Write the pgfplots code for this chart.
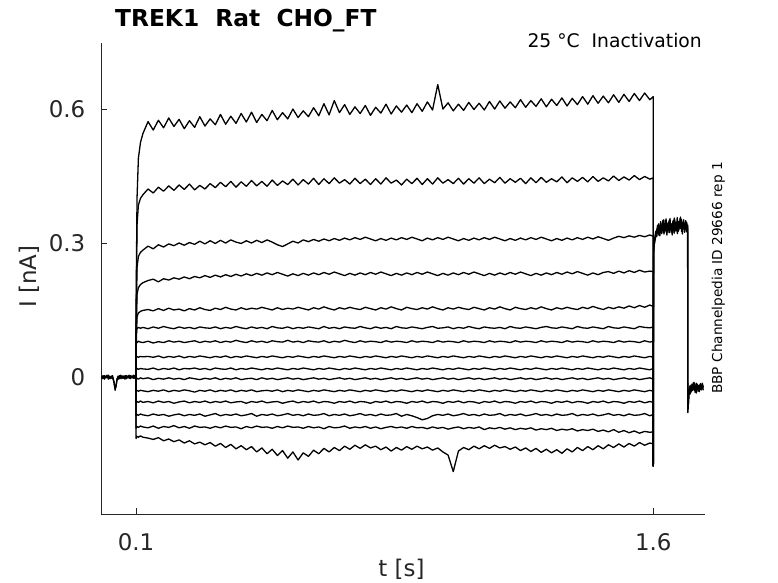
\documentclass[border=0pt]{standalone}
\usepackage{fontspec}
\setmainfont{DejaVu Sans}
\usepackage{pgfplots}
\pgfplotsset{compat=1.18}
\usepackage{pgfplotstable}
\definecolor{axgray}{RGB}{38,38,38}

\pgfplotstableread{
t A B C D E F G H I J K L M N O
0.1000 0.000 0.000 0.000 0.000 0.000 0.000 0.000 0.000 0.000 0.000 0.000 0.000 0.000 0.000 0.000
0.1002 0.150 0.100 0.080 0.060 0.050 0.105 0.075 0.043 0.016 -0.006 -0.033 -0.058 -0.087 -0.115 -0.138
0.1030 0.400 0.340 0.245 0.185 0.135 0.108 0.077 0.046 0.019 -0.003 -0.030 -0.055 -0.084 -0.111 -0.133
0.1070 0.490 0.385 0.270 0.200 0.143 0.111 0.080 0.044 0.017 -0.005 -0.032 -0.057 -0.086 -0.113 -0.135
0.1130 0.525 0.400 0.279 0.207 0.147 0.109 0.078 0.046 0.019 -0.002 -0.030 -0.054 -0.083 -0.110 -0.132
0.1200 0.545 0.408 0.284 0.211 0.149 0.111 0.077 0.045 0.018 -0.004 -0.031 -0.057 -0.085 -0.112 -0.135
0.135 0.572 0.421 0.293 0.216 0.151 0.108 0.080 0.046 0.017 -0.002 -0.033 -0.055 -0.087 -0.114 -0.137
0.150 0.553 0.412 0.287 0.219 0.148 0.112 0.076 0.044 0.020 -0.006 -0.030 -0.058 -0.083 -0.110 -0.140
0.165 0.575 0.425 0.296 0.213 0.153 0.109 0.079 0.047 0.016 -0.003 -0.032 -0.054 -0.086 -0.115 -0.136
0.180 0.558 0.416 0.291 0.220 0.149 0.113 0.077 0.043 0.019 -0.005 -0.029 -0.057 -0.084 -0.111 -0.143
0.195 0.580 0.428 0.298 0.217 0.154 0.110 0.081 0.046 0.017 -0.002 -0.033 -0.055 -0.088 -0.113 -0.139
0.210 0.561 0.418 0.294 0.222 0.150 0.108 0.078 0.044 0.020 -0.005 -0.030 -0.059 -0.085 -0.109 -0.145
0.225 0.577 0.430 0.300 0.219 0.152 0.112 0.080 0.047 0.016 -0.003 -0.032 -0.056 -0.083 -0.114 -0.141
0.240 0.556 0.420 0.295 0.224 0.148 0.109 0.077 0.043 0.019 -0.006 -0.029 -0.054 -0.087 -0.111 -0.148
0.255 0.574 0.432 0.301 0.220 0.153 0.111 0.079 0.046 0.018 -0.002 -0.031 -0.058 -0.084 -0.115 -0.143
0.270 0.559 0.419 0.297 0.225 0.150 0.108 0.081 0.044 0.020 -0.004 -0.034 -0.055 -0.086 -0.110 -0.150
0.285 0.583 0.429 0.304 0.222 0.155 0.112 0.077 0.047 0.017 -0.006 -0.030 -0.057 -0.083 -0.113 -0.146
0.300 0.562 0.421 0.298 0.227 0.151 0.110 0.080 0.045 0.019 -0.003 -0.032 -0.054 -0.088 -0.112 -0.152
0.315 0.578 0.433 0.305 0.223 0.149 0.109 0.078 0.043 0.016 -0.005 -0.029 -0.058 -0.085 -0.115 -0.147
0.330 0.565 0.424 0.299 0.228 0.154 0.112 0.081 0.046 0.020 -0.002 -0.033 -0.055 -0.082 -0.111 -0.155
0.345 0.588 0.436 0.306 0.224 0.151 0.108 0.077 0.044 0.018 -0.006 -0.030 -0.057 -0.087 -0.114 -0.149
0.360 0.566 0.426 0.300 0.229 0.156 0.111 0.080 0.047 0.017 -0.003 -0.032 -0.054 -0.084 -0.110 -0.158
0.375 0.584 0.438 0.307 0.225 0.152 0.109 0.078 0.043 0.020 -0.005 -0.029 -0.058 -0.086 -0.113 -0.151
0.390 0.568 0.425 0.302 0.230 0.150 0.113 0.082 0.046 0.016 -0.002 -0.033 -0.056 -0.083 -0.112 -0.161
0.405 0.590 0.437 0.299 0.226 0.155 0.110 0.079 0.044 0.019 -0.006 -0.030 -0.055 -0.087 -0.116 -0.154
0.420 0.571 0.427 0.305 0.231 0.151 0.108 0.077 0.047 0.017 -0.004 -0.032 -0.059 -0.085 -0.111 -0.163
0.435 0.593 0.440 0.300 0.227 0.154 0.112 0.081 0.045 0.020 -0.003 -0.029 -0.055 -0.082 -0.114 -0.156
0.450 0.570 0.428 0.306 0.232 0.152 0.109 0.078 0.043 0.018 -0.006 -0.033 -0.057 -0.088 -0.110 -0.168
0.465 0.588 0.438 0.301 0.228 0.156 0.111 0.080 0.046 0.016 -0.002 -0.031 -0.054 -0.084 -0.113 -0.159
0.480 0.574 0.427 0.307 0.233 0.153 0.108 0.077 0.044 0.019 -0.005 -0.030 -0.058 -0.086 -0.112 -0.172
0.495 0.597 0.441 0.302 0.229 0.150 0.113 0.081 0.047 0.017 -0.003 -0.032 -0.056 -0.083 -0.115 -0.162
0.510 0.576 0.429 0.296 0.234 0.155 0.110 0.079 0.045 0.020 -0.006 -0.029 -0.055 -0.087 -0.111 -0.176
0.525 0.592 0.439 0.292 0.230 0.151 0.109 0.078 0.043 0.018 -0.004 -0.033 -0.059 -0.085 -0.114 -0.165
0.540 0.578 0.431 0.298 0.226 0.154 0.112 0.082 0.046 0.016 -0.002 -0.030 -0.056 -0.082 -0.110 -0.182
0.555 0.600 0.443 0.304 0.231 0.152 0.108 0.078 0.044 0.019 -0.005 -0.032 -0.054 -0.086 -0.113 -0.168
0.570 0.581 0.430 0.300 0.227 0.156 0.111 0.080 0.047 0.017 -0.003 -0.029 -0.058 -0.084 -0.112 -0.186
0.585 0.596 0.442 0.307 0.232 0.153 0.109 0.077 0.045 0.020 -0.006 -0.031 -0.055 -0.087 -0.115 -0.170
0.600 0.583 0.432 0.303 0.228 0.150 0.112 0.081 0.043 0.018 -0.004 -0.033 -0.057 -0.083 -0.111 -0.178
0.615 0.603 0.445 0.308 0.233 0.155 0.110 0.079 0.046 0.016 -0.002 -0.030 -0.054 -0.086 -0.114 -0.164
0.630 0.585 0.431 0.304 0.229 0.152 0.108 0.078 0.044 0.019 -0.005 -0.032 -0.058 -0.085 -0.112 -0.172
0.645 0.612 0.444 0.309 0.234 0.157 0.113 0.081 0.047 0.017 -0.003 -0.029 -0.055 -0.082 -0.116 -0.160
0.660 0.587 0.433 0.305 0.230 0.153 0.109 0.077 0.045 0.020 -0.006 -0.031 -0.056 -0.087 -0.111 -0.168
0.675 0.619 0.446 0.310 0.235 0.150 0.111 0.080 0.043 0.018 -0.004 -0.033 -0.059 -0.084 -0.114 -0.158
0.690 0.592 0.434 0.306 0.231 0.155 0.108 0.078 0.046 0.016 -0.002 -0.030 -0.055 -0.086 -0.113 -0.165
0.705 0.610 0.442 0.311 0.227 0.152 0.112 0.082 0.044 0.019 -0.005 -0.032 -0.057 -0.083 -0.110 -0.155
0.720 0.588 0.432 0.307 0.232 0.156 0.110 0.079 0.047 0.017 -0.003 -0.029 -0.054 -0.087 -0.115 -0.162
0.735 0.605 0.445 0.312 0.228 0.153 0.109 0.077 0.045 0.020 -0.006 -0.031 -0.058 -0.085 -0.112 -0.153
0.750 0.590 0.433 0.308 0.233 0.151 0.113 0.081 0.043 0.018 -0.004 -0.033 -0.055 -0.082 -0.114 -0.160
0.765 0.608 0.443 0.313 0.229 0.156 0.110 0.078 0.046 0.016 -0.002 -0.030 -0.056 -0.086 -0.111 -0.152
0.780 0.586 0.431 0.309 0.234 0.153 0.108 0.080 0.044 0.019 -0.005 -0.032 -0.059 -0.084 -0.115 -0.159
0.795 0.604 0.444 0.305 0.230 0.150 0.112 0.079 0.047 0.017 -0.003 -0.029 -0.055 -0.087 -0.112 -0.155
0.810 0.591 0.432 0.310 0.235 0.155 0.109 0.077 0.045 0.020 -0.006 -0.031 -0.057 -0.083 -0.116 -0.163
0.825 0.611 0.446 0.306 0.231 0.152 0.111 0.081 0.043 0.018 -0.004 -0.033 -0.054 -0.086 -0.113 -0.157
0.840 0.589 0.434 0.311 0.227 0.157 0.108 0.078 0.046 0.016 -0.002 -0.030 -0.058 -0.085 -0.111 -0.166
0.855 0.607 0.441 0.307 0.232 0.153 0.113 0.080 0.044 0.019 -0.005 -0.032 -0.055 -0.082 -0.114 -0.158
0.870 0.593 0.430 0.312 0.228 0.150 0.110 0.079 0.047 0.017 -0.003 -0.029 -0.056 -0.088 -0.112 -0.164
0.885 0.609 0.443 0.308 0.233 0.156 0.109 0.077 0.045 0.020 -0.006 -0.031 -0.059 -0.084 -0.115 -0.156
0.900 0.592 0.433 0.313 0.229 0.153 0.112 0.081 0.043 0.018 -0.004 -0.033 -0.055 -0.087 -0.111 -0.162
0.915 0.612 0.445 0.309 0.234 0.151 0.110 0.078 0.046 0.016 -0.002 -0.030 -0.057 -0.091 -0.114 -0.155
0.930 0.595 0.431 0.305 0.230 0.155 0.108 0.080 0.044 0.019 -0.005 -0.032 -0.054 -0.096 -0.113 -0.161
0.945 0.616 0.444 0.311 0.235 0.152 0.111 0.079 0.047 0.017 -0.003 -0.029 -0.058 -0.093 -0.116 -0.157
0.960 0.598 0.432 0.307 0.231 0.157 0.113 0.077 0.045 0.020 -0.006 -0.031 -0.055 -0.087 -0.112 -0.164
0.975 0.655 0.446 0.312 0.227 0.153 0.109 0.081 0.043 0.018 -0.004 -0.033 -0.056 -0.084 -0.115 -0.159
0.990 0.600 0.434 0.308 0.232 0.150 0.110 0.078 0.046 0.016 -0.002 -0.030 -0.059 -0.086 -0.113 -0.168
1.005 0.614 0.442 0.313 0.228 0.155 0.112 0.080 0.044 0.019 -0.005 -0.032 -0.055 -0.083 -0.117 -0.175
1.020 0.596 0.433 0.309 0.233 0.152 0.108 0.079 0.047 0.017 -0.003 -0.029 -0.057 -0.087 -0.114 -0.212
1.035 0.611 0.445 0.305 0.229 0.156 0.111 0.077 0.045 0.020 -0.006 -0.031 -0.054 -0.085 -0.112 -0.166
1.050 0.597 0.432 0.310 0.234 0.153 0.109 0.081 0.043 0.018 -0.004 -0.033 -0.058 -0.082 -0.116 -0.158
1.065 0.615 0.444 0.306 0.230 0.151 0.113 0.078 0.046 0.016 -0.002 -0.030 -0.055 -0.086 -0.113 -0.163
1.080 0.599 0.434 0.311 0.235 0.156 0.110 0.080 0.044 0.019 -0.005 -0.032 -0.056 -0.084 -0.115 -0.155
1.095 0.613 0.446 0.307 0.231 0.153 0.108 0.079 0.047 0.017 -0.003 -0.029 -0.059 -0.087 -0.112 -0.161
1.110 0.598 0.433 0.312 0.227 0.150 0.112 0.077 0.045 0.020 -0.006 -0.031 -0.055 -0.083 -0.118 -0.154
1.125 0.617 0.443 0.308 0.232 0.155 0.110 0.081 0.043 0.018 -0.004 -0.033 -0.057 -0.086 -0.114 -0.160
1.140 0.600 0.435 0.313 0.228 0.152 0.109 0.078 0.046 0.016 -0.002 -0.030 -0.054 -0.085 -0.116 -0.153
1.155 0.618 0.447 0.309 0.233 0.157 0.111 0.080 0.044 0.019 -0.005 -0.032 -0.058 -0.082 -0.113 -0.159
1.170 0.602 0.434 0.305 0.229 0.153 0.108 0.079 0.047 0.017 -0.003 -0.029 -0.055 -0.087 -0.117 -0.156
1.185 0.616 0.444 0.310 0.234 0.150 0.113 0.077 0.045 0.020 -0.006 -0.031 -0.056 -0.084 -0.114 -0.162
1.200 0.603 0.436 0.306 0.230 0.156 0.110 0.081 0.043 0.018 -0.004 -0.033 -0.059 -0.086 -0.118 -0.157
1.215 0.621 0.445 0.311 0.235 0.153 0.109 0.078 0.046 0.016 -0.002 -0.030 -0.055 -0.083 -0.115 -0.165
1.230 0.604 0.433 0.307 0.231 0.151 0.112 0.080 0.044 0.019 -0.005 -0.032 -0.057 -0.087 -0.117 -0.159
1.245 0.619 0.446 0.312 0.227 0.155 0.110 0.079 0.047 0.017 -0.003 -0.029 -0.054 -0.085 -0.114 -0.167
1.260 0.606 0.435 0.308 0.232 0.152 0.108 0.077 0.045 0.020 -0.006 -0.031 -0.058 -0.082 -0.119 -0.160
1.275 0.623 0.447 0.313 0.228 0.157 0.111 0.081 0.043 0.018 -0.004 -0.033 -0.055 -0.086 -0.116 -0.169
1.290 0.605 0.436 0.309 0.233 0.153 0.113 0.078 0.046 0.016 -0.002 -0.030 -0.056 -0.084 -0.118 -0.162
1.305 0.622 0.444 0.305 0.229 0.150 0.110 0.080 0.044 0.019 -0.005 -0.032 -0.059 -0.087 -0.115 -0.170
1.320 0.608 0.437 0.310 0.234 0.155 0.109 0.079 0.047 0.017 -0.003 -0.029 -0.055 -0.083 -0.120 -0.163
1.335 0.625 0.448 0.306 0.230 0.152 0.112 0.077 0.045 0.020 -0.006 -0.031 -0.057 -0.086 -0.117 -0.171
1.350 0.607 0.435 0.311 0.235 0.156 0.110 0.081 0.043 0.018 -0.004 -0.033 -0.054 -0.085 -0.119 -0.161
1.365 0.624 0.446 0.307 0.231 0.153 0.108 0.078 0.046 0.016 -0.002 -0.030 -0.058 -0.082 -0.116 -0.168
1.380 0.610 0.438 0.312 0.236 0.151 0.113 0.080 0.044 0.019 -0.005 -0.032 -0.055 -0.087 -0.121 -0.158
1.395 0.628 0.447 0.308 0.232 0.156 0.110 0.079 0.047 0.017 -0.003 -0.029 -0.056 -0.084 -0.118 -0.165
1.410 0.611 0.437 0.313 0.228 0.153 0.109 0.077 0.045 0.020 -0.006 -0.031 -0.059 -0.086 -0.120 -0.156
1.425 0.630 0.449 0.309 0.233 0.158 0.112 0.081 0.043 0.018 -0.004 -0.033 -0.055 -0.083 -0.117 -0.163
1.440 0.613 0.438 0.314 0.229 0.154 0.110 0.078 0.046 0.016 -0.002 -0.030 -0.057 -0.087 -0.122 -0.154
1.455 0.629 0.446 0.310 0.234 0.151 0.108 0.080 0.044 0.019 -0.005 -0.032 -0.054 -0.085 -0.119 -0.161
1.470 0.614 0.439 0.306 0.236 0.156 0.113 0.079 0.047 0.017 -0.003 -0.029 -0.058 -0.082 -0.123 -0.152
1.485 0.632 0.450 0.311 0.232 0.153 0.110 0.077 0.045 0.020 -0.006 -0.031 -0.055 -0.086 -0.118 -0.158
1.500 0.615 0.440 0.315 0.237 0.157 0.109 0.081 0.043 0.018 -0.004 -0.033 -0.056 -0.084 -0.124 -0.150
1.515 0.633 0.448 0.312 0.233 0.154 0.112 0.078 0.046 0.016 -0.002 -0.030 -0.059 -0.087 -0.120 -0.157
1.530 0.617 0.441 0.316 0.238 0.159 0.110 0.080 0.044 0.019 -0.005 -0.032 -0.055 -0.083 -0.125 -0.149
1.545 0.635 0.451 0.313 0.234 0.155 0.108 0.079 0.047 0.017 -0.003 -0.029 -0.057 -0.086 -0.121 -0.155
1.560 0.619 0.442 0.317 0.239 0.160 0.113 0.077 0.045 0.020 -0.006 -0.031 -0.054 -0.085 -0.126 -0.147
1.575 0.636 0.449 0.314 0.235 0.156 0.111 0.081 0.043 0.018 -0.004 -0.033 -0.058 -0.082 -0.122 -0.153
1.590 0.621 0.443 0.318 0.237 0.161 0.110 0.078 0.046 0.016 -0.002 -0.030 -0.055 -0.087 -0.124 -0.148
1.600 0.628 0.446 0.315 0.236 0.158 0.112 0.080 0.044 0.019 -0.005 -0.032 -0.057 -0.084 -0.123 -0.150
1.6002 -0.200 -0.200 -0.200 -0.200 -0.200 -0.200 -0.200 -0.200 -0.200 -0.200 -0.200 -0.200 -0.200 -0.200 -0.200
}\pulse

\begin{document}
\begin{tikzpicture}
\path[use as bounding box] (-101.5bp,-69bp) rectangle (676.5bp,514bp);
\begin{axis}[
  at={(0,0)}, anchor=south west,
  scale only axis, width=603.5bp, height=471bp,
  xmin=0, xmax=1.75, ymin=-0.307, ymax=0.748,
  axis lines*=left,
  axis line style={axgray, line width=0.6bp},
  xtick={0.1,1.6}, ytick={0,0.3,0.6},
  tick align=inside, major tick length=6bp,
  tick style={axgray, line width=0.6bp},
  /pgf/number format/assume math mode=true,
  ticklabel style={font=\fontsize{23}{27}\selectfont, text=axgray, inner sep=0pt},
  xticklabel style={anchor=north, yshift=-19bp},
  yticklabel style={anchor=east, xshift=-16bp},
  no markers,
  every axis plot post/.append style={black, solid, mark=none, line width=1.3bp, line join=round},
]
\pgfplotsinvokeforeach{A,B,C,D,E,F,G,H,I,J,K,L,M,N,O}{
  \addplot table[x=t, y=#1] {\pulse};
}
% pre-pulse baseline
\addplot coordinates {(0,0.002)(0.004,-0.004)(0.008,0.003)(0.012,-0.002)(0.016,0.004)(0.020,-0.005)(0.024,0.001)(0.028,-0.003)(0.032,0.003)(0.036,-0.010)(0.039,-0.026)(0.042,-0.022)(0.045,-0.006)(0.048,0.002)(0.052,-0.004)(0.056,0.004)(0.060,-0.003)(0.064,0.002)(0.068,-0.005)(0.072,0.003)(0.076,-0.002)(0.080,0.004)(0.084,-0.004)(0.088,0.002)(0.092,-0.003)(0.096,0.003)(0.1,0)};
\addplot coordinates {(0,-0.003)(0.0045,0.003)(0.0085,-0.005)(0.0125,0.002)(0.0165,-0.002)(0.0205,0.004)(0.0245,-0.004)(0.0285,0.002)(0.0325,-0.003)(0.0365,-0.012)(0.0395,-0.030)(0.0425,-0.018)(0.0455,-0.003)(0.0485,-0.005)(0.0525,0.003)(0.0565,-0.004)(0.0605,0.002)(0.0645,-0.003)(0.0685,0.003)(0.0725,-0.004)(0.0765,0.002)(0.0805,-0.003)(0.0845,0.003)(0.0885,-0.002)(0.0925,0.004)(0.0965,-0.003)(0.1,0)};
% tail
\addplot coordinates {(1.6002,-0.200)(1.6010,0.270)(1.6030,0.305)(1.6060,0.318)(1.610,0.330)(1.614,0.322)(1.618,0.338)(1.622,0.326)(1.626,0.345)(1.630,0.330)(1.634,0.341)(1.638,0.324)(1.642,0.336)(1.646,0.350)(1.650,0.331)(1.654,0.343)(1.658,0.327)(1.662,0.352)(1.666,0.335)(1.670,0.346)(1.674,0.329)(1.678,0.355)(1.682,0.338)(1.686,0.347)(1.690,0.332)(1.694,0.350)(1.698,0.336)(1.7000,0.340)(1.7002,-0.060)(1.7010,-0.072)(1.7030,-0.040)(1.706,-0.025)(1.710,-0.018)(1.714,-0.030)(1.718,-0.012)(1.722,-0.026)(1.726,-0.015)(1.730,-0.032)(1.734,-0.018)(1.738,-0.028)(1.742,-0.014)(1.745,-0.022)};
\addplot coordinates {(1.6002,-0.200)(1.6012,0.285)(1.6035,0.300)(1.6065,0.312)(1.6095,0.325)(1.6125,0.340)(1.6155,0.318)(1.6185,0.333)(1.6215,0.348)(1.6245,0.321)(1.6275,0.336)(1.6305,0.352)(1.6335,0.327)(1.6365,0.342)(1.6395,0.318)(1.6425,0.345)(1.6455,0.331)(1.6485,0.355)(1.6515,0.324)(1.6545,0.339)(1.6575,0.350)(1.6605,0.322)(1.6635,0.344)(1.6665,0.330)(1.6695,0.357)(1.6725,0.326)(1.6755,0.341)(1.6785,0.333)(1.6815,0.353)(1.6845,0.320)(1.6875,0.345)(1.6905,0.330)(1.6935,0.349)(1.6965,0.325)(1.6995,0.338)(1.7002,-0.050)(1.7012,-0.068)(1.7035,-0.035)(1.7065,-0.020)(1.7095,-0.034)(1.7125,-0.016)(1.7155,-0.029)(1.7185,-0.020)(1.7215,-0.035)(1.7245,-0.014)(1.7275,-0.027)(1.7305,-0.019)(1.7335,-0.033)(1.7365,-0.016)(1.7395,-0.026)(1.7425,-0.020)(1.7450,-0.030)};
\addplot coordinates {(1.6002,-0.200)(1.6015,0.292)(1.6040,0.302)(1.6070,0.326)(1.6100,0.314)(1.6130,0.333)(1.6160,0.343)(1.6190,0.316)(1.6220,0.338)(1.6250,0.329)(1.6280,0.351)(1.6310,0.320)(1.6340,0.337)(1.6370,0.354)(1.6400,0.328)(1.6430,0.340)(1.6460,0.323)(1.6490,0.347)(1.6520,0.336)(1.6550,0.318)(1.6580,0.344)(1.6610,0.356)(1.6640,0.327)(1.6670,0.339)(1.6700,0.321)(1.6730,0.348)(1.6760,0.334)(1.6790,0.358)(1.6820,0.326)(1.6850,0.342)(1.6880,0.352)(1.6910,0.324)(1.6940,0.340)(1.6970,0.346)(1.7000,0.330)(1.7003,-0.080)(1.7015,-0.060)(1.7040,-0.028)(1.7070,-0.038)(1.7100,-0.022)(1.7130,-0.031)(1.7160,-0.013)(1.7190,-0.027)(1.7220,-0.022)(1.7250,-0.036)(1.7280,-0.017)(1.7310,-0.025)(1.7340,-0.030)(1.7370,-0.015)(1.7400,-0.029)(1.7430,-0.021)(1.7450,-0.025)};
\end{axis}
% texts
\node[anchor=base west, inner sep=0pt, font=\fontsize{23.4}{28}\selectfont\bfseries] at (13.5bp,487bp) {TREK1\ \ Rat\ \ CHO\_FT};
\node[anchor=base east, inner sep=0pt, font=\fontsize{18.8}{22}\selectfont] at (600.5bp,466.3bp) {25 °C\ \ Inactivation};
\node[anchor=base west, inner sep=0pt, rotate=90, font=\fontsize{13.7}{16}\selectfont] at (620.5bp,120bp) {BBP Channelpedia ID 29666 rep 1};
\node[anchor=base, inner sep=0pt, rotate=90, text=axgray, font=\fontsize{23}{27}\selectfont] at (-65bp,237.5bp) {I [nA]};
\node[anchor=base, inner sep=0pt, text=axgray, font=\fontsize{23}{27}\selectfont] at (300bp,-62bp) {t [s]};
\end{tikzpicture}
\end{document}
